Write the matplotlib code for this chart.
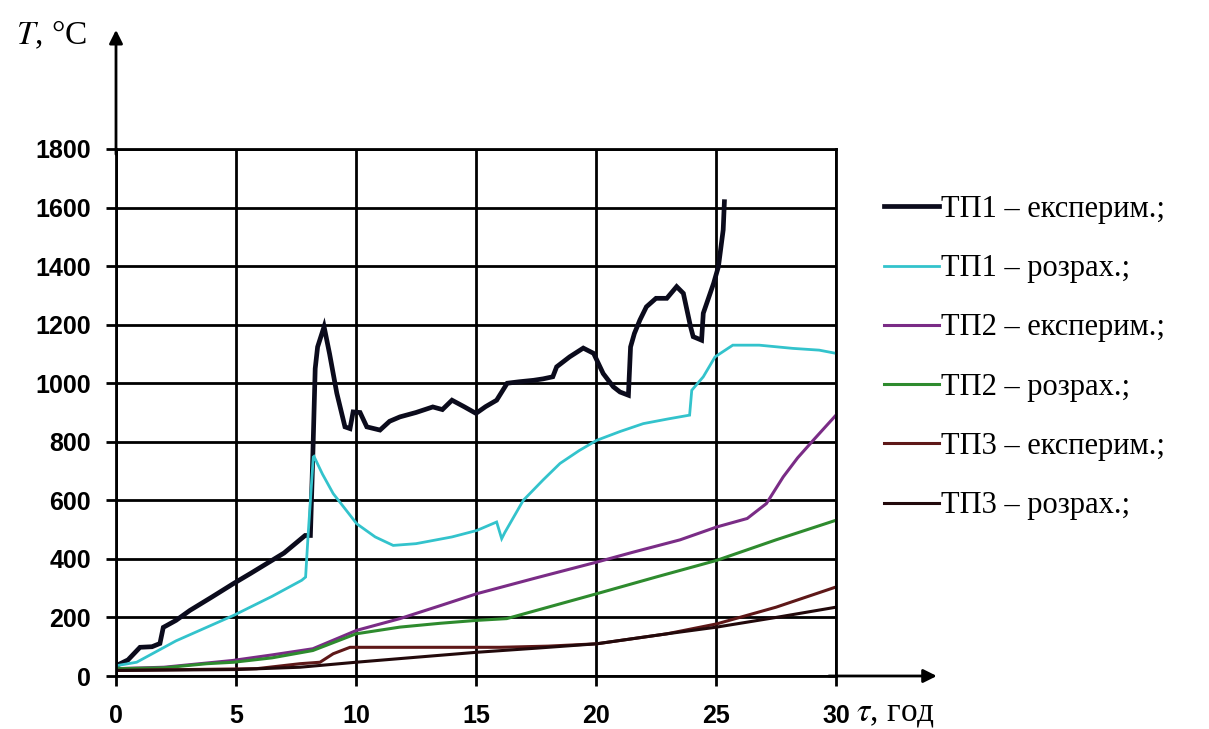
import matplotlib
matplotlib.use("Agg")
import matplotlib.pyplot as plt

plt.rcParams.update({
    'font.family': 'Liberation Sans',
    'mathtext.fontset': 'stix',
})

# ТП1 – експериментальні дані
tp1_exp_t = [0.0, 0.5, 1.0, 1.5, 1.83, 1.97, 2.5, 3.08, 4.0, 4.9, 5.6, 6.28, 7.0, 7.88, 8.1,
             8.2, 8.3, 8.4, 8.67, 8.9, 9.2, 9.54, 9.75, 9.88, 10.17, 10.45, 11.0, 11.4,
             11.83, 12.5, 13.2, 13.6, 14.0, 14.5, 15.0, 15.4, 15.86, 16.3, 16.8, 17.4,
             17.8, 18.2, 18.36, 18.9, 19.47, 19.9, 20.3, 20.72, 21.0, 21.35, 21.44,
             21.6, 21.83, 22.1, 22.5, 22.95, 23.36, 23.64, 23.94, 24.05, 24.4, 24.47,
             24.9, 25.1, 25.3, 25.35]
tp1_exp_T = [35, 55, 98, 100, 111, 166, 190, 224, 270, 316, 350, 384, 420, 480, 480,
             750, 1050, 1124, 1193, 1100, 966, 851, 845, 902, 900, 851, 840, 870,
             885, 900, 919, 910, 942, 920, 897, 920, 942, 1000, 1005, 1010,
             1015, 1022, 1056, 1090, 1120, 1102, 1033, 988, 970, 959, 1124,
             1170, 1216, 1261, 1290, 1290, 1330, 1307, 1193, 1159, 1147, 1239,
             1341, 1398, 1524, 1620]

# ТП1 – розрахунок
tp1_calc_t = [0.0, 0.86, 2.5, 4.9, 6.5, 7.74, 7.9, 8.0, 8.22, 8.25, 8.6, 9.05, 10.03,
              10.8, 11.55, 12.5, 14.0, 15.03, 15.86, 16.07, 16.2, 16.97, 17.8, 18.5,
              19.3, 20.03, 21.0, 21.97, 23.0, 23.9, 23.99, 24.47, 24.96, 25.7, 26.8,
              28.2, 29.3, 30.0]
tp1_calc_T = [35, 47, 120, 207, 272, 327, 338, 475, 748, 750, 690, 623, 520,
              475, 446, 452, 475, 497, 526, 469, 490, 600, 670, 726,
              770, 805, 835, 862, 878, 891, 976, 1022, 1090, 1130, 1130,
              1119, 1113, 1102]

# ТП2 – експериментальні дані
tp2_exp_t = [0.0, 2.0, 4.86, 6.5, 8.2, 10.03, 11.83, 13.5, 15.03, 17.5, 20.03, 21.55,
             23.5, 25.03, 26.3, 27.1, 27.8, 28.4, 29.05, 30.0]
tp2_exp_T = [25, 30, 53, 72, 93, 156, 196, 240, 281, 335, 389, 423,
             465, 509, 538, 589, 680, 745, 805, 891]

# ТП2 – розрахунок
tp2_calc_t = [0.0, 2.0, 3.78, 4.9, 6.5, 8.2, 10.0, 11.83, 13.5, 15.03, 16.28, 18.0,
              20.03, 22.5, 25.03, 27.5, 30.0]
tp2_calc_T = [25, 28, 42, 47, 62, 87, 144, 167, 180, 190, 196, 235,
              281, 338, 395, 465, 532]

# ТП3 – експериментальні дані
tp3_exp_t = [0.0, 5.86, 7.67, 8.5, 9.05, 9.75, 12.0, 15.0, 16.0, 18.0, 20.03, 22.95,
             25.03, 27.5, 30.0]
tp3_exp_T = [19, 25, 42, 47, 76, 98, 98, 98, 98, 102, 110, 144,
             178, 235, 304]

# ТП3 – розрахунок
tp3_calc_t = [0.0, 5.0, 7.67, 10.0, 12.5, 15.03, 17.5, 20.03, 22.95, 25.03, 27.5, 30.0]
tp3_calc_T = [19, 22, 30, 47, 64, 81, 95, 110, 144, 167, 200, 235]

x_ticks = [0, 5, 10, 15, 20, 25, 30]
y_ticks = [0, 200, 400, 600, 800, 1000, 1200, 1400, 1600, 1800]

series = [
    (tp1_exp_t, tp1_exp_T, "ТП1 – експерим.;", "#0b0b1c", 3.4),
    (tp1_calc_t, tp1_calc_T, "ТП1 – розрах.;", "#33c3cc", 2.0),
    (tp2_exp_t, tp2_exp_T, "ТП2 – експерим.;", "#7a2c86", 2.2),
    (tp2_calc_t, tp2_calc_T, "ТП2 – розрах.;", "#2e8b2e", 2.2),
    (tp3_exp_t, tp3_exp_T, "ТП3 – експерим.;", "#5e1818", 2.2),
    (tp3_calc_t, tp3_calc_T, "ТП3 – розрах.;", "#22090b", 2.2),
]

fig = plt.figure(figsize=(12.09, 7.29), dpi=100)
ax = fig.add_axes([116 / 1209, 1 - 676 / 729, 720 / 1209, 527 / 729])

for t, T, label, color, lw in series:
    ax.plot(t, T, color=color, lw=lw, label=label, solid_joinstyle='miter')

ax.set_xlim(0, 30)
ax.set_ylim(0, 1800)
ax.set_xticks(x_ticks)
ax.set_yticks(y_ticks)
ax.grid(True, color='black', lw=2.0)
ax.set_axisbelow(True)
for side in ['top', 'right', 'left', 'bottom']:
    ax.spines[side].set_linewidth(2.0)
ax.tick_params(axis='both', which='major', direction='out', length=7, width=2,
               labelsize=18)
ax.tick_params(axis='x', pad=13)
ax.tick_params(axis='y', pad=11)
plt.setp(ax.get_xticklabels() + ax.get_yticklabels(), fontweight='bold')

# осі зі стрілками
arrow = dict(arrowstyle='-|>', lw=2, color='black', mutation_scale=20,
             shrinkA=0, shrinkB=0)
ax.annotate('', xy=(0, 1.226), xytext=(0, 0.99), xycoords='axes fraction',
            arrowprops=arrow, annotation_clip=False)
ax.annotate('', xy=(1.14, 0), xytext=(0.99, 0), xycoords='axes fraction',
            arrowprops=arrow, annotation_clip=False)

fig.text(16 / 1209, 1 - 35 / 729, r"$T$, °C", family='Liberation Serif',
         fontsize=24, va='center', ha='left')
fig.text(856 / 1209, 1 - 714 / 729, r"$\tau$, год", family='Liberation Serif',
         fontsize=24, va='center', ha='left')

leg = ax.legend(loc='upper left', bbox_to_anchor=(884 / 1209, 1 - 195 / 729),
                bbox_transform=fig.transFigure, frameon=False,
                prop={'family': 'Liberation Serif', 'size': 22},
                handlelength=1.8, handletextpad=0.05, labelspacing=0.99,
                borderpad=0, borderaxespad=0)

fig.savefig("out.png", dpi=100, facecolor='white')
